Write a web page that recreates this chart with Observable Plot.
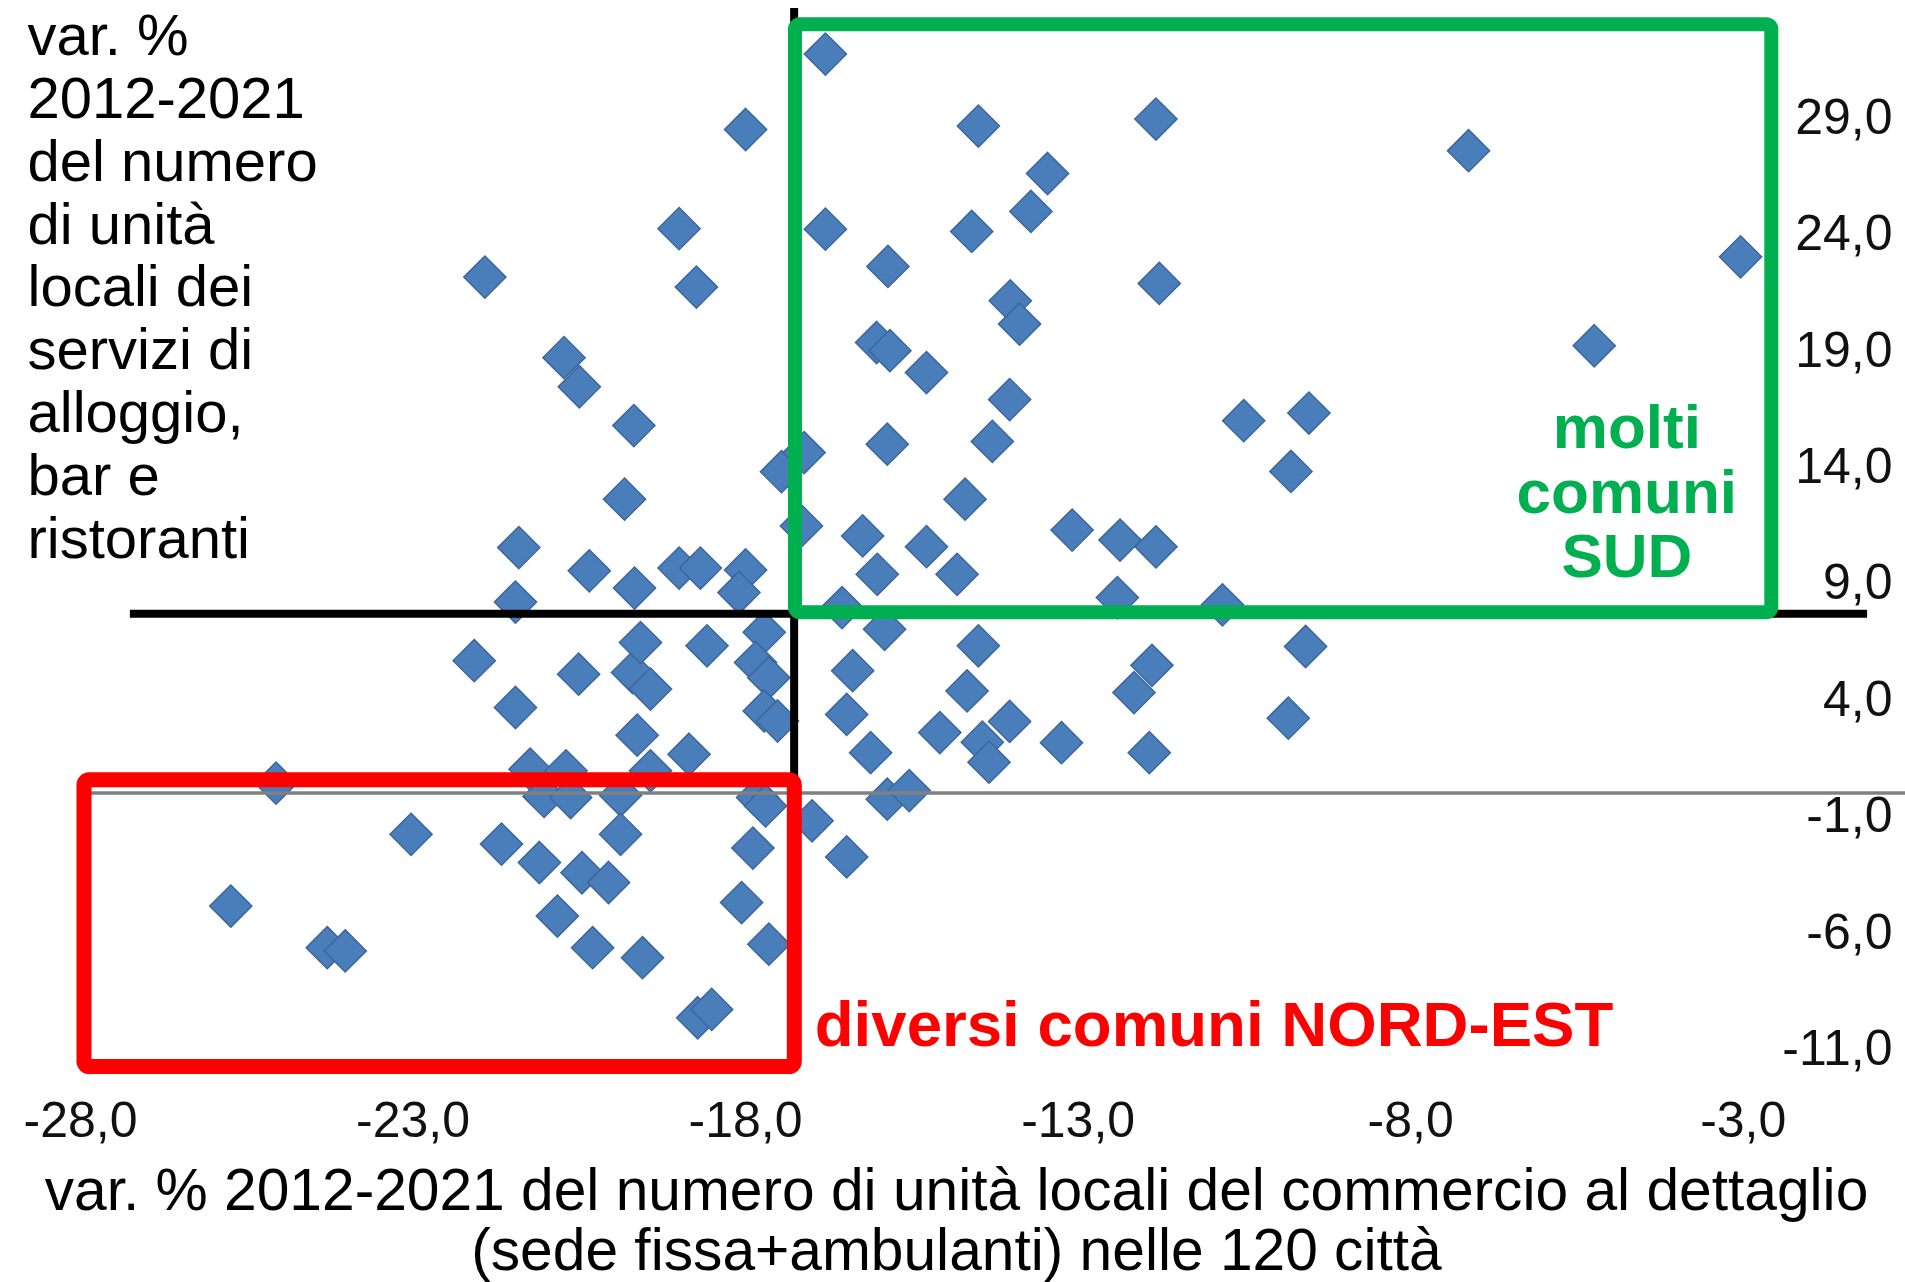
<!DOCTYPE html>
<html><head><meta charset="utf-8">
<script src="https://cdn.jsdelivr.net/npm/d3@7"></script>
<script src="https://cdn.jsdelivr.net/npm/@observablehq/plot@0.6"></script>
<style>html,body{margin:0;padding:0;background:#fff;} #chart svg{display:block}</style>
</head><body><div id="chart"></div>
<script>
// var. % 2012-2021 unità locali del commercio al dettaglio (x)
const commercio = [
 -16.80,-14.50,-11.83,-7.13,-13.46,-13.71,-16.80,-14.60,-15.86,-11.78,-3.04,-14.02,-13.88,-16.03,-15.83,-5.24,-15.28,-14.03,-10.51,-9.53,-9.80,-15.87,-14.29,-14.70,-16.24,-15.28,-16.02,-14.82,-13.09,-12.37,-11.83,-12.41,-10.83,-16.55,
 -18.00,-19.00,-18.74,-21.92,-20.73,-20.50,-19.68,-19.82,-17.46,-17.12,-17.16,-21.41,-20.35,-19.67,-19.00,-18.68,-18.00,-18.10,-21.46,
 -22.08,-20.51,-19.70,-19.43,-19.58,-18.58,-17.72,-17.85,-17.65,-17.72,-17.52,-21.46,-19.63,-18.85,-21.24,-20.70,-19.43,-21.03,-20.63,-19.88,-19.88,-17.82,-17.70,-25.06,-23.03,-21.67,-21.10,-20.46,-20.06,-20.83,-20.30,-19.55,-17.89,-18.06,-17.65,-18.72,-18.51,-25.74,-24.29,-24.02,
 -15.91,-14.50,-16.39,-14.67,-11.89,-12.16,-9.58,-9.84,-16.48,-15.08,-14.03,-14.44,-14.34,-13.25,-11.93,-16.12,-15.87,-15.54,-17.00,-16.48
];
// var. % 2012-2021 unità locali dei servizi di alloggio, bar e ristoranti (y)
const alloggio = [
 31.74,28.65,28.95,27.59,26.61,24.98,24.22,24.12,22.62,21.89,23.03,21.14,20.14,19.35,19.00,19.21,18.06,16.90,15.99,16.32,13.81,14.98,15.10,12.62,11.04,10.58,9.39,9.39,11.29,10.86,10.57,8.39,8.08,7.96,
 28.50,24.24,21.73,22.16,18.70,17.45,15.78,12.62,13.80,14.62,11.47,10.54,9.54,8.80,9.66,9.66,9.58,8.61,8.20,
 5.68,5.10,5.17,4.46,6.46,6.32,6.90,5.60,4.95,3.52,3.09,3.67,2.48,1.66,1.02,0.95,0.95,-0.15,-0.20,-0.10,-1.78,-0.20,-0.56,0.42,-1.78,-2.20,-2.99,-3.43,-3.85,-5.29,-6.65,-7.08,-2.37,-4.71,-6.50,-9.66,-9.30,-4.86,-6.65,-6.79,
 7.03,6.32,5.25,4.38,5.48,4.31,6.29,3.21,3.37,2.59,3.07,2.18,1.32,2.16,1.73,1.73,-0.27,0.10,-1.20,-2.75
];
const xTicks = [-28, -23, -18, -13, -8, -3];
const yTicks = [-11, -6, -1, 4, 9, 14, 19, 24, 29];
const xDomain = [-28, -0.56];
const yDomain = [-13, 34];
// medie (linee nere)
const mediaX = [-17.27];
const mediaY = [7.7];
// riquadri evidenziati
const boxSud = [{x1: -17.25, x2: -2.57, y1: 7.74, y2: 33.0}];
const boxNordEst = [{x1: -27.94, x2: -17.26, y1: -11.78, y2: 0.54}];
const labelSud = [{x: -4.75, y: 12.93, text: "molti\ncomuni\nSUD"}];
const labelNordEst = [{x: -16.96, y: -10.0, text: "diversi comuni NORD-EST"}];
const yTitle = "var. %\n2012-2021\ndel numero\ndi unità\nlocali dei\nservizi di\nalloggio,\nbar e\nristoranti";
const xTitle = "var. % 2012-2021 del numero di unità locali del commercio al dettaglio\n(sede fissa+ambulanti) nelle 120 città";

const points = commercio.map((x, i) => ({x, y: alloggio[i]}));
const fmt = d => d.toFixed(1).replace(".", ",");
const FONT = "'Liberation Sans', Arial, sans-serif";

const chart = Plot.plot({
  width: 1905,
  height: 1282,
  marginLeft: 80,
  marginRight: 0,
  marginTop: 1,
  marginBottom: 187,
  style: {fontFamily: FONT, background: "#fff", overflow: "visible"},
  x: {domain: xDomain, axis: null},
  y: {domain: yDomain, axis: null},
  marks: [
    Plot.dot(points, {x: "x", y: "y", symbol: "diamond2", r: 19, fill: "#4a7ebb", stroke: "#3b679c", strokeWidth: 1.5}),
    Plot.ruleY([0], {stroke: "#808080", strokeWidth: 3.5}),
    Plot.ruleY(mediaY, {x1: -27.25, x2: -1.13, stroke: "#000", strokeWidth: 8}),
    Plot.ruleX(mediaX, {y1: -11.8, y2: 33.7, stroke: "#000", strokeWidth: 8}),
    Plot.rect(boxNordEst, {x1: "x1", x2: "x2", y1: "y1", y2: "y2", fill: "none", stroke: "#ff0000", strokeWidth: 15, rx: 5}),
    Plot.rect(boxSud, {x1: "x1", x2: "x2", y1: "y1", y2: "y2", fill: "none", stroke: "#00b050", strokeWidth: 14, rx: 5}),
    Plot.text(labelSud, {x: "x", y: "y", text: "text", fill: "#00b050", fontSize: 62, fontWeight: "bold", lineHeight: 1.04, textAnchor: "middle", lineAnchor: "middle"}),
    Plot.text(labelNordEst, {x: "x", y: "y", text: "text", fill: "#ff0000", fontSize: 63.6, fontWeight: "bold", textAnchor: "start", lineAnchor: "middle"}),
    Plot.text(yTicks, {y: d => d, text: d => fmt(d), frameAnchor: "right", textAnchor: "end", dx: -13, fontSize: 50, fill: "#111"}),
    Plot.axisX({ticks: xTicks, tickFormat: fmt, tickSize: 0, tickPadding: 6, fontSize: 50, label: null, fill: "#111"}),
    Plot.text([yTitle], {text: d => d, frameAnchor: "top-left", dx: -53, dy: 9, textAnchor: "start", lineAnchor: "top", fontSize: 58, lineHeight: 1.083, fill: "#000"}),
    Plot.text([xTitle], {text: d => d, frameAnchor: "bottom-left", dx: 876, dy: 72, textAnchor: "middle", lineAnchor: "top", fontSize: 58.7, lineHeight: 1.02, fill: "#000"})
  ]
});
document.getElementById("chart").appendChild(chart);
</script>
</body></html>
